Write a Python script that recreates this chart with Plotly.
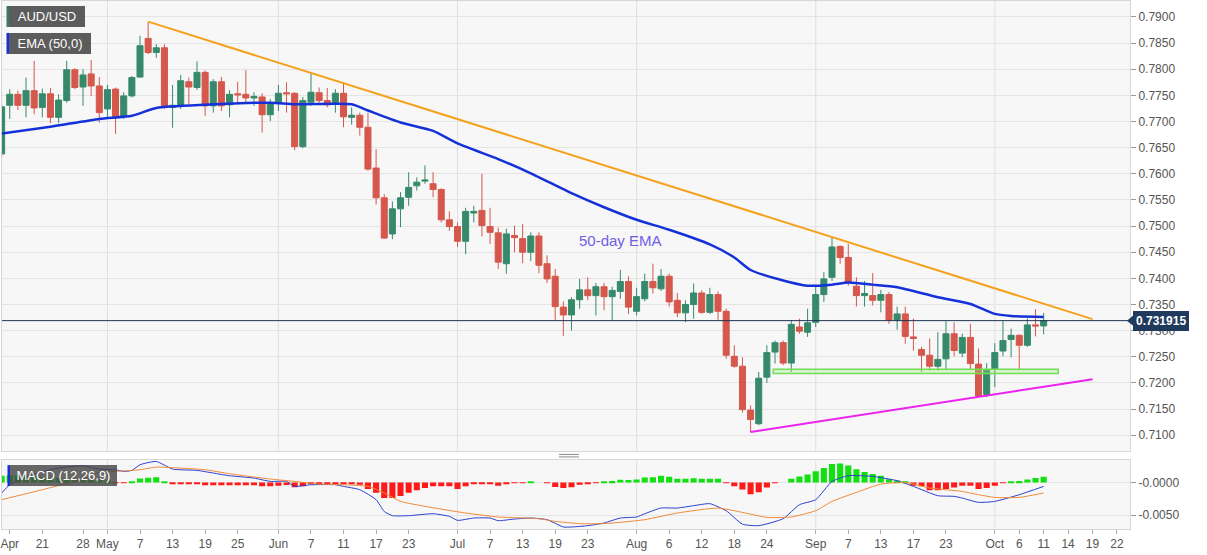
import pandas as pd
import plotly.graph_objects as go
from plotly.subplots import make_subplots

# daily AUD/USD candles, 14 Apr - 11 Oct 2021
# (candles sit at midday so the weekend breaks never clip a body)
days = pd.bdate_range("2021-04-14", "2021-10-11") + pd.Timedelta(hours=12)

opens = [
    0.7638, 0.7731, 0.7752, 0.7731, 0.7759, 0.7727, 0.7753, 0.7708, 0.7740, 0.7799,
    0.7766, 0.7791, 0.7768, 0.7724, 0.7762, 0.7709, 0.7749, 0.7785, 0.7859, 0.7832,
    0.7841, 0.7727, 0.7730, 0.7776, 0.7765, 0.7794, 0.7730, 0.7776, 0.7732, 0.7753,
    0.7752, 0.7745, 0.7747, 0.7713, 0.7736, 0.7755, 0.7754, 0.7652, 0.7737, 0.7755,
    0.7740, 0.7733, 0.7754, 0.7708, 0.7712, 0.7689, 0.7611, 0.7554, 0.7485, 0.7533,
    0.7555, 0.7577, 0.7586, 0.7581, 0.7570, 0.7512, 0.7499, 0.7471, 0.7525, 0.7530,
    0.7499, 0.7487, 0.7428, 0.7482, 0.7476, 0.7450, 0.7481, 0.7428, 0.7404, 0.7345,
    0.7330, 0.7359, 0.7378, 0.7367, 0.7384, 0.7365, 0.7375, 0.7394, 0.7337, 0.7361,
    0.7394, 0.7380, 0.7404, 0.7358, 0.7334, 0.7350, 0.7372, 0.7335, 0.7369, 0.7337,
    0.7251, 0.7232, 0.7148, 0.7122, 0.7211, 0.7259, 0.7277, 0.7238, 0.7307, 0.7297,
    0.7316, 0.7369, 0.7402, 0.7461, 0.7440, 0.7385, 0.7367, 0.7367, 0.7358, 0.7369,
    0.7320, 0.7332, 0.7288, 0.7264, 0.7253, 0.7232, 0.7246, 0.7294, 0.7257, 0.7287,
    0.7236, 0.7178, 0.7227, 0.7261, 0.7283, 0.7291, 0.7272, 0.7311, 0.7309,
]
highs = [
    0.7735, 0.7762, 0.7759, 0.7784, 0.7816, 0.7763, 0.7764, 0.7752, 0.7816, 0.7802,
    0.7800, 0.7818, 0.7785, 0.7770, 0.7765, 0.7756, 0.7787, 0.7864, 0.7891, 0.7848,
    0.7848, 0.7770, 0.7789, 0.7784, 0.7815, 0.7798, 0.7781, 0.7785, 0.7760, 0.7776,
    0.7798, 0.7756, 0.7754, 0.7743, 0.7770, 0.7775, 0.7756, 0.7747, 0.7794, 0.7765,
    0.7764, 0.7762, 0.7775, 0.7727, 0.7717, 0.7717, 0.7647, 0.7561, 0.7547, 0.7565,
    0.7603, 0.7593, 0.7616, 0.7603, 0.7572, 0.7528, 0.7507, 0.7535, 0.7539, 0.7600,
    0.7535, 0.7497, 0.7495, 0.7501, 0.7504, 0.7488, 0.7488, 0.7444, 0.7418, 0.7356,
    0.7364, 0.7399, 0.7402, 0.7391, 0.7391, 0.7384, 0.7416, 0.7404, 0.7382, 0.7409,
    0.7428, 0.7418, 0.7409, 0.7372, 0.7358, 0.7390, 0.7377, 0.7382, 0.7375, 0.7342,
    0.7272, 0.7249, 0.7157, 0.7221, 0.7272, 0.7281, 0.7281, 0.7320, 0.7323, 0.7342,
    0.7386, 0.7412, 0.7479, 0.7463, 0.7466, 0.7402, 0.7395, 0.7410, 0.7378, 0.7374,
    0.7346, 0.7346, 0.7323, 0.7269, 0.7285, 0.7297, 0.7318, 0.7316, 0.7294, 0.7313,
    0.7266, 0.7238, 0.7276, 0.7318, 0.7304, 0.7293, 0.7323, 0.7341, 0.7334,
]
lows = [
    0.7630, 0.7705, 0.7722, 0.7708, 0.7714, 0.7708, 0.7697, 0.7697, 0.7736, 0.7762,
    0.7730, 0.7749, 0.7698, 0.7708, 0.7676, 0.7705, 0.7746, 0.7784, 0.7829, 0.7822,
    0.7724, 0.7688, 0.7724, 0.7733, 0.7760, 0.7711, 0.7717, 0.7720, 0.7708, 0.7735,
    0.7733, 0.7730, 0.7679, 0.7701, 0.7720, 0.7717, 0.7645, 0.7649, 0.7730, 0.7733,
    0.7727, 0.7717, 0.7689, 0.7694, 0.7673, 0.7606, 0.7541, 0.7476, 0.7475, 0.7498,
    0.7539, 0.7568, 0.7581, 0.7555, 0.7507, 0.7491, 0.7460, 0.7446, 0.7507, 0.7480,
    0.7466, 0.7418, 0.7409, 0.7450, 0.7429, 0.7433, 0.7410, 0.7391, 0.7320, 0.7290,
    0.7300, 0.7342, 0.7358, 0.7329, 0.7339, 0.7320, 0.7361, 0.7332, 0.7329, 0.7356,
    0.7371, 0.7376, 0.7346, 0.7326, 0.7316, 0.7323, 0.7332, 0.7332, 0.7320, 0.7246,
    0.7229, 0.7143, 0.7106, 0.7119, 0.7200, 0.7237, 0.7234, 0.7221, 0.7294, 0.7288,
    0.7307, 0.7355, 0.7395, 0.7428, 0.7386, 0.7346, 0.7346, 0.7348, 0.7335, 0.7313,
    0.7302, 0.7275, 0.7262, 0.7221, 0.7224, 0.7224, 0.7225, 0.7251, 0.7249, 0.7225,
    0.7173, 0.7173, 0.7192, 0.7251, 0.7249, 0.7225, 0.7269, 0.7289, 0.7293,
]
closes = [
    0.7728, 0.7752, 0.7731, 0.7759, 0.7726, 0.7753, 0.7708, 0.7741, 0.7799, 0.7765,
    0.7789, 0.7768, 0.7717, 0.7761, 0.7709, 0.7749, 0.7784, 0.7845, 0.7832, 0.7841,
    0.7727, 0.7731, 0.7778, 0.7766, 0.7794, 0.7730, 0.7776, 0.7730, 0.7752, 0.7751,
    0.7745, 0.7748, 0.7713, 0.7736, 0.7754, 0.7753, 0.7652, 0.7740, 0.7756, 0.7740,
    0.7732, 0.7754, 0.7709, 0.7712, 0.7689, 0.7609, 0.7554, 0.7477, 0.7533, 0.7554,
    0.7574, 0.7584, 0.7588, 0.7570, 0.7512, 0.7499, 0.7471, 0.7528, 0.7528, 0.7501,
    0.7488, 0.7431, 0.7485, 0.7478, 0.7450, 0.7481, 0.7425, 0.7399, 0.7346, 0.7330,
    0.7359, 0.7378, 0.7367, 0.7384, 0.7365, 0.7377, 0.7394, 0.7345, 0.7365, 0.7394,
    0.7382, 0.7404, 0.7355, 0.7334, 0.7350, 0.7372, 0.7335, 0.7369, 0.7337, 0.7253,
    0.7232, 0.7149, 0.7130, 0.7209, 0.7258, 0.7277, 0.7238, 0.7312, 0.7299, 0.7315,
    0.7369, 0.7399, 0.7460, 0.7440, 0.7393, 0.7367, 0.7371, 0.7358, 0.7369, 0.7320,
    0.7332, 0.7289, 0.7285, 0.7253, 0.7232, 0.7245, 0.7294, 0.7262, 0.7287, 0.7237,
    0.7175, 0.7225, 0.7258, 0.7281, 0.7291, 0.7272, 0.7311, 0.7309, 0.731915,
]

# 50-day EMA, sampled along the drawn line (index into days, value)
ema_idx = [0, 6, 12, 16, 19, 25, 33, 36, 43, 45, 49, 53, 56, 61, 65, 70, 74,
           78, 82, 87, 90, 92, 96, 99, 102, 104, 107, 110, 115, 119, 122, 124, 128]
ema_val = [0.7677, 0.7690, 0.7705, 0.7711, 0.7726, 0.7732, 0.7736, 0.7733, 0.7733,
           0.7721, 0.7698, 0.7682, 0.7658, 0.7628, 0.7601, 0.7563, 0.7536, 0.7512,
           0.7493, 0.7465, 0.7440, 0.7416, 0.7396, 0.7386, 0.7388, 0.7392, 0.7388,
           0.7383, 0.7364, 0.7351, 0.7332, 0.7328, 0.7326]

# MACD (12,26,9)
macd_idx = [0, 1, 3, 7, 10, 12, 14, 15, 16, 17, 19, 21, 24, 26, 28, 31, 33, 35, 36,
            38, 41, 42, 44, 46, 47, 48, 50, 53, 55, 56, 58, 60, 61, 63, 65, 67, 69,
            70, 72, 74, 76, 78, 79, 81, 83, 85, 87, 89, 91, 93, 96, 98, 100, 102,
            104, 107, 110, 112, 115, 117, 118, 120, 122, 125, 128]
macd_val = [-0.00163, -0.00036, 0.00092, 0.00219, 0.00255, 0.00204, 0.00194, 0.00168,
            0.00184, 0.00270, 0.00321, 0.00204, 0.00184, 0.00143, 0.00102, 0.00066,
            0.00015, 0.00015, -0.00061, -0.00036, -0.00036, -0.00061, -0.00112,
            -0.00265, -0.00446, -0.00510, -0.00510, -0.00480, -0.00520, -0.00582,
            -0.00546, -0.00546, -0.00587, -0.00561, -0.00546, -0.00571, -0.00683,
            -0.00683, -0.00663, -0.00622, -0.00546, -0.00530, -0.00480, -0.00393,
            -0.00393, -0.00357, -0.00326, -0.00434, -0.00640, -0.00663, -0.00556,
            -0.00342, -0.00265, 0.00015, 0.00102, 0.00092, 0.00026, -0.00061,
            -0.00204, -0.00214, -0.00240, -0.00306, -0.00291, -0.00189, -0.00061]
signal_idx = [0, 5, 10, 12, 14, 17, 19, 22, 25, 28, 33, 36, 39, 42, 45, 47, 49, 52,
              57, 61, 66, 68, 71, 74, 79, 83, 88, 91, 94, 97, 100, 102, 105, 108,
              111, 114, 118, 120, 122, 125, 128]
signal_val = [-0.00265, -0.00112, 0.00051, 0.00153, 0.00168, 0.00194, 0.00235,
              0.00219, 0.00194, 0.00133, 0.00051, 0.00015, -0.00026, -0.00036,
              -0.00061, -0.00163, -0.00291, -0.00367, -0.00469, -0.00530, -0.00556,
              -0.00597, -0.00632, -0.00632, -0.00571, -0.00469, -0.00393, -0.00460,
              -0.00536, -0.00530, -0.00434, -0.00291, -0.00153, -0.00026, 0.0,
              -0.00087, -0.00138, -0.00189, -0.00230, -0.00230, -0.00163]
hist = [
    0.0010, 0.0011, 0.0011, 0.0010, 0.0009, 0.0008, 0.0007, 0.0007, 0.0006, 0.0005,
    0.0004, 0.0004, 0.0004, 0.0003, -0.0001, -0.0001, 0.00015, 0.0006, 0.0007, 0.0008,
    0.0001, -0.00015, -0.00015, -0.0002, -0.0002, -0.00045, -0.00045, -0.00045, -0.00045, -0.00045,
    -0.00045, -0.00045, -0.0006, -0.0006, -0.0005, -0.0004, -0.00075, -0.0006, -0.00025, -0.0002,
    -0.0002, -0.0002, -0.00025, -0.00025, -0.00035, -0.0010, -0.0016, -0.0024, -0.0024, -0.0021,
    -0.0016, -0.0012, -0.00085, -0.0006, -0.0006, -0.0006, -0.0010, -0.0006, -0.00025, -0.0002,
    -0.0002, -0.0005, -0.0002, -0.0001, -0.0001, 0.00005, 0.0, -0.0001, -0.0007, -0.00085,
    -0.00075, -0.00035, -0.00025, -0.0001, 0.0001, 0.0002, 0.0004, 0.00035, 0.00045, 0.00075,
    0.0008, 0.0010, 0.00085, 0.00055, 0.00055, 0.00065, 0.00055, 0.00055, 0.00055, -0.0001,
    -0.0006, -0.0011, -0.0018, -0.0015, -0.0008, -0.0001, 0.0, 0.00055, 0.0009, 0.0012,
    0.0017, 0.0022, 0.0028, 0.0029, 0.0026, 0.0020, 0.0016, 0.0013, 0.0010, 0.0005,
    0.0003, 0.0001, -0.0005, -0.0006, -0.0012, -0.0012, -0.0010, -0.0008, -0.0005, -0.0005,
    -0.0010, -0.00085, -0.0005, -0.0001, 0.0001, 0.0002, 0.00046, 0.00066, 0.00087,
]

# hand-drawn studies
resist_x = ["2021-05-10 12:00", "2021-10-19 12:00"]
resist_y = [0.7891, 0.7322]
support_x = ["2021-08-20 12:00", "2021-10-19 12:00"]
support_y = [0.7106, 0.7207]
zone_x = ["2021-08-25 07:00", "2021-10-13 07:00"]
zone_y = [0.7218, 0.7226]
last_price = 0.731915

tick_days = ["2021-04-15", "2021-04-21", "2021-04-28", "2021-05-03", "2021-05-07",
             "2021-05-13", "2021-05-19", "2021-05-25", "2021-06-01", "2021-06-07",
             "2021-06-11", "2021-06-17", "2021-06-23", "2021-07-01", "2021-07-07",
             "2021-07-13", "2021-07-19", "2021-07-23", "2021-08-02", "2021-08-06",
             "2021-08-12", "2021-08-18", "2021-08-24", "2021-09-01", "2021-09-07",
             "2021-09-13", "2021-09-17", "2021-09-23", "2021-10-01", "2021-10-06",
             "2021-10-11", "2021-10-14", "2021-10-19", "2021-10-22"]
tick_text = ["Apr", "21", "28", "May", "7", "13", "19", "25", "Jun", "7", "11", "17",
             "23", "Jul", "7", "13", "19", "23", "Aug", "6", "12", "18", "24", "Sep",
             "7", "13", "17", "23", "Oct", "6", "11", "14", "19", "22"]
month_days = ["2021-05-03", "2021-06-01", "2021-07-01", "2021-08-02", "2021-09-01", "2021-10-01"]

UP = "#368a6b"
DN = "#d6574b"
FONT = "Liberation Sans, Arial, sans-serif"
W, H = 1207, 555
PW, PH = 1130, 529  # plot area in px, used to place the corner labels


def px(x):
    return x / PW


def py(y):
    return 1 - y / PH


noon = pd.Timedelta(hours=12)
ticks = pd.to_datetime(tick_days) + noon
months = pd.to_datetime(month_days) + noon

fig = make_subplots(rows=2, cols=1, shared_xaxes=True, vertical_spacing=0.02)

fig.add_trace(go.Candlestick(
    x=days, open=opens, high=highs, low=lows, close=closes,
    increasing=dict(line=dict(color=UP, width=1), fillcolor=UP),
    decreasing=dict(line=dict(color=DN, width=1), fillcolor=DN),
    whiskerwidth=0, hoverinfo="skip"), row=1, col=1)

fig.add_trace(go.Scatter(x=days[ema_idx], y=ema_val, mode="lines",
                         line=dict(color="#1431d9", width=2.5, shape="spline", smoothing=0.6),
                         hoverinfo="skip"), row=1, col=1)
fig.add_trace(go.Scatter(x=resist_x, y=resist_y, mode="lines",
                         line=dict(color="#f5a11c", width=2), hoverinfo="skip"), row=1, col=1)
fig.add_trace(go.Scatter(x=support_x, y=support_y, mode="lines",
                         line=dict(color="#ee22ee", width=2), hoverinfo="skip"), row=1, col=1)

fig.add_trace(go.Bar(x=days, y=hist,
                     marker=dict(color=["#11e011" if v >= 0 else "#ff1a1a" for v in hist], line_width=0),
                     hoverinfo="skip"), row=2, col=1)
fig.add_trace(go.Scatter(x=days[macd_idx], y=macd_val, mode="lines",
                         line=dict(color="#2a3fd0", width=1, shape="spline", smoothing=0.5),
                         hoverinfo="skip"), row=2, col=1)
fig.add_trace(go.Scatter(x=days[signal_idx], y=signal_val, mode="lines",
                         line=dict(color="#f08a3a", width=1, shape="spline", smoothing=0.5),
                         hoverinfo="skip"), row=2, col=1)

# month grid lines in both panels
for m in months:
    for xr, yr in (("x", "y domain"), ("x2", "y2 domain")):
        fig.add_shape(type="line", xref=xr, yref=yr, x0=m, x1=m, y0=0, y1=1,
                      line=dict(color="#e0e0e0", width=1), layer="below")

# support zone
fig.add_shape(type="rect", xref="x", yref="y", x0=zone_x[0], x1=zone_x[1],
              y0=zone_y[0], y1=zone_y[1], line=dict(color="#74dd55", width=1.5),
              fillcolor="rgba(150,235,130,0.35)")

# last price line and tag
fig.add_shape(type="line", xref="x domain", yref="y", x0=0, x1=1, y0=last_price, y1=last_price,
              line=dict(color="#1f3452", width=1))
fig.add_shape(type="path", xref="paper", yref="y", fillcolor="#1f3a5c", line_width=0,
              path=f"M {px(1127)},{last_price} L {px(1134)},{last_price + 0.0011} "
                   f"L {px(1134)},{last_price - 0.0011} Z")
fig.add_annotation(xref="paper", yref="y", x=px(1133), y=last_price, xanchor="left",
                   yanchor="middle", text="<b>0.731915</b>", showarrow=False,
                   bgcolor="#1f3a5c", borderpad=3, borderwidth=0,
                   font=dict(color="white", size=12, family=FONT))

fig.add_annotation(xref="x", yref="y", x="2021-07-29 12:00", y=0.74725, text="50-day EMA",
                   showarrow=False, font=dict(color="#6f60e6", size=15, family=FONT))

# corner labels with coloured stripe
labels = [
    ("AUD/USD", 7, 5, 70, "#3c7a66", "rgba(80,80,80,0.93)"),
    ("EMA (50,0)", 7, 32, 76, "#1431d9", "rgba(80,80,80,0.93)"),
    ("MACD (12,26,9)", 8, 465, 101, "#1431d9", "rgba(70,70,70,0.82)"),
]
for text, x0, y0, w, stripe, bg in labels:
    fig.add_shape(type="rect", xref="paper", yref="paper", x0=px(x0 - 2.5), x1=px(x0),
                  y0=py(y0 + 21), y1=py(y0), fillcolor=stripe, line_width=0)
    fig.add_annotation(xref="paper", yref="paper", x=px(x0), y=py(y0), xanchor="left",
                       yanchor="top", text=text, showarrow=False, width=w, height=15,
                       borderpad=3, borderwidth=0, bgcolor=bg,
                       font=dict(color="white", size=13, family=FONT))

# panel drag handle
for y in (454.3, 456.8):
    fig.add_shape(type="line", xref="paper", yref="paper", x0=px(558), x1=px(578),
                  y0=py(y), y1=py(y), line=dict(color="#8a8a8a", width=1))

fig.update_xaxes(
    range=["2021-04-14 13:10", "2021-10-26 02:30"],
    rangebreaks=[dict(bounds=["sat", "mon"])],
    showgrid=False, zeroline=False, showline=True, mirror=True, linecolor="#d6d6d6",
    rangeslider_visible=False)
fig.update_xaxes(showticklabels=False, ticks="", row=1, col=1)
fig.update_xaxes(tickvals=ticks, ticktext=tick_text, ticks="outside", ticklen=4,
                 tickcolor="#aaaaaa", tickfont=dict(size=12, color="#555555"),
                 ticklabeloverflow="allow", row=2, col=1)

fig.update_yaxes(side="right", showline=True, mirror=True, linecolor="#d6d6d6",
                 gridcolor="#e4e4e4", zeroline=False, ticks="outside", ticklen=5,
                 tickcolor="#9a9a9a", tickfont=dict(size=12, color="#555555"))
fig.update_yaxes(range=[0.70695, 0.79305], dtick=0.005, tickformat=".4f", row=1, col=1)
fig.update_yaxes(range=[-0.00714, 0.00341], tickvals=[0, -0.005],
                 ticktext=["-0.0000", "-0.0050"], row=2, col=1)

fig.update_layout(
    width=W, height=H, margin=dict(l=0, r=W - PW, t=0, b=H - PH),
    paper_bgcolor="white", plot_bgcolor="#f7f7f7", showlegend=False,
    bargap=0.25, boxgap=0.14, boxgroupgap=0.14,
    font=dict(family=FONT, size=12, color="#555555"),
    yaxis=dict(domain=[1 - 451 / PH, 1]),
    yaxis2=dict(domain=[0, 1 - 460 / PH]),
)

fig.write_html("out.html", config={"displayModeBar": False},
               post_script="document.body.style.margin='0';")
